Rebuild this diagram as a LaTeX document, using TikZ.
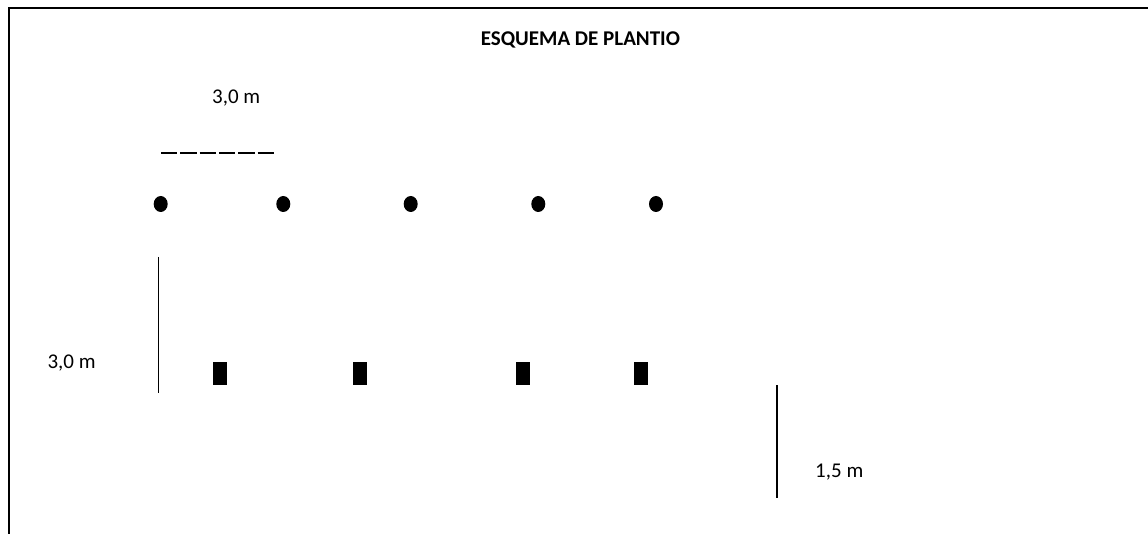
\documentclass[tikz,border=0pt]{standalone}
\usepackage{fontspec}
\setmainfont{Carlito}
\usetikzlibrary{shapes.geometric}
\begin{document}
\begin{tikzpicture}[x=1pt,y=-1pt,
  lbl/.style={inner sep=0pt,font=\fontsize{21}{24}\selectfont},
  ttl/.style={inner sep=0pt,font=\fontsize{21}{24}\selectfont\bfseries},
  plant/.style={ellipse,fill=black,draw=none,minimum width=14pt,minimum height=16pt,inner sep=0pt},
  seed/.style={rectangle,fill=black,draw=none,minimum width=14pt,minimum height=23pt,inner sep=0pt},
  dimline/.style={line width=1.6pt},
  frameline/.style={line width=2pt}]
\useasboundingbox (0,0) rectangle (1148,534);
% frame (top and left edges)
\coordinate (fb) at (9,536);
\coordinate (fc) at (9,8.3);
\coordinate (fr) at (1150,8.3);
\draw[frameline] (fb) -- (fc) -- (fr);
% title
\node[ttl,anchor=base] (title) at (580.4,46) {ESQUEMA DE PLANTIO};
% top dimension
\node[lbl,anchor=base west] (d1) at (212,103.8) {3,0 m};
\coordinate (da) at (161,152.7);
\coordinate (db) at (275,152.7);
\draw[line width=2pt,dash pattern=on 16.3pt off 3pt] (da) -- (db);
% plants
\node[plant] (p1) at (160.7,204) {};
\node[plant] (p2) at (283.3,204) {};
\node[plant] (p3) at (410.7,204) {};
\node[plant] (p4) at (538.3,204) {};
\node[plant] (p5) at (656,204) {};
% left dimension
\coordinate (la) at (158.3,257);
\coordinate (lb) at (158.3,393);
\draw[dimline] (la) -- (lb);
\node[lbl,anchor=base west] (d2) at (47.3,368.3) {3,0 m};
% seedlings
\node[seed] (s1) at (219.7,373.5) {};
\node[seed] (s2) at (360,373.5) {};
\node[seed] (s3) at (522.8,373.5) {};
\node[seed] (s4) at (640.8,373.5) {};
% right dimension
\coordinate (ra) at (777,385.3);
\coordinate (rb) at (777,497.7);
\draw[dimline] (ra) -- (rb);
\node[lbl,anchor=base west] (d3) at (815,477.3) {1,5 m};
\end{tikzpicture}
\end{document}
